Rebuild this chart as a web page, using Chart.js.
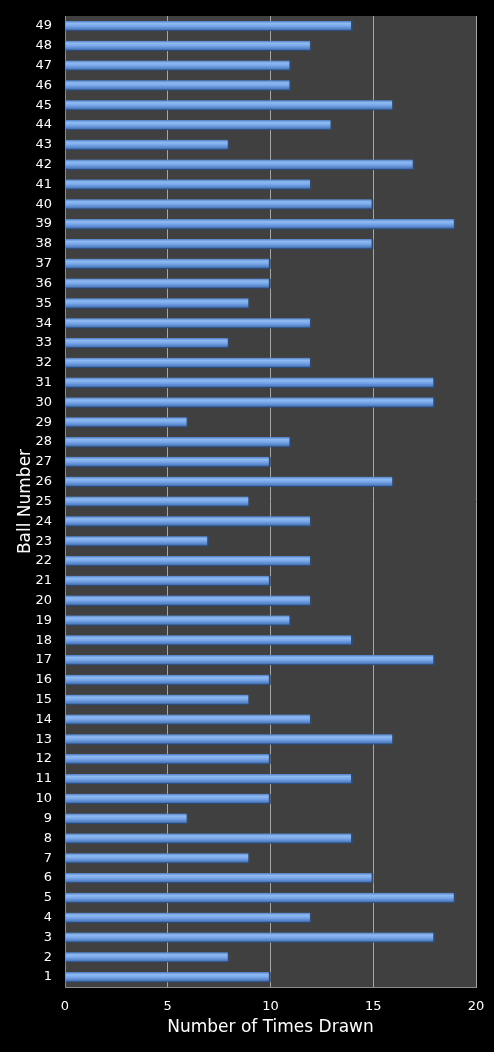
<!DOCTYPE html>
<html>
<head>
<meta charset="utf-8">
<script src="https://cdn.jsdelivr.net/npm/chart.js@4/dist/chart.umd.min.js"></script>
<style>
  html, body { margin: 0; padding: 0; background: #000; }
  #wrap { width: 494px; height: 1052px; position: relative; }
</style>
</head>
<body>
<div id="wrap"><canvas id="myChart"></canvas></div>
<script>
// ball numbers 1..49 and how often each came up
var balls = [
  "1", "2", "3", "4", "5", "6", "7", "8", "9", "10",
  "11", "12", "13", "14", "15", "16", "17", "18", "19", "20",
  "21", "22", "23", "24", "25", "26", "27", "28", "29", "30",
  "31", "32", "33", "34", "35", "36", "37", "38", "39", "40",
  "41", "42", "43", "44", "45", "46", "47", "48", "49",
];
var timesDrawn = [
  10, 8, 18, 12, 19, 15, 9, 14, 6, 10,
  14, 10, 16, 12, 9, 10, 18, 14, 11, 12,
  10, 12, 7, 12, 9, 16, 10, 11, 6, 18,
  18, 12, 8, 12, 9, 10, 10, 15, 19, 15,
  12, 17, 8, 13, 16, 11, 11, 12, 14,
];
var xTicks = [0, 5, 10, 15, 20];

var barHeight = 10;

// dark grey plot area
var plotBg = {
  id: "plotBg",
  beforeDraw: function (chart) {
    var a = chart.chartArea;
    var c = chart.ctx;
    c.save();
    c.fillStyle = "#404040";
    c.fillRect(a.left, a.top, a.right - a.left, a.bottom - a.top);
    c.restore();
  },
};

function barFill(context) {
  var chart = context.chart;
  var yScale = chart.scales.y;
  if (!yScale || context.dataIndex === undefined) return "#6a9be0";
  var mid = yScale.getPixelForValue(context.dataIndex);
  if (!isFinite(mid)) return "#6a9be0";
  var g = chart.ctx.createLinearGradient(0, mid - barHeight / 2, 0, mid + barHeight / 2);
  g.addColorStop(0, "#4f7fc4");
  g.addColorStop(0.25, "#8fbaf2");
  g.addColorStop(0.5, "#7aa8ea");
  g.addColorStop(0.8, "#5583c8");
  g.addColorStop(1, "#34598f");
  return g;
}

var ctx = document.getElementById("myChart").getContext("2d");
var myChart = new Chart(ctx, {
  type: "bar",
  data: {
    labels: balls,
    datasets: [
      {
        data: timesDrawn,
        backgroundColor: barFill,
        borderColor: "#2b4a78",
        borderWidth: { top: 0, right: 2, bottom: 1, left: 0 },
        borderSkipped: false,
        barThickness: barHeight,
      },
    ],
  },
  options: {
    indexAxis: "y",
    responsive: true,
    maintainAspectRatio: false,
    animation: false,
    layout: { padding: { top: 16, right: 18, bottom: 14, left: 12 } },
    plugins: {
      legend: { display: false },
      tooltip: { enabled: false },
    },
    scales: {
      x: {
        min: 0,
        max: 20,
        afterBuildTicks: function (scale) {
          scale.ticks = xTicks.map(function (v) { return { value: v }; });
        },
        afterFit: function (scale) {
          scale.height = 51;
          scale.paddingLeft = 0;
          scale.paddingRight = 0;
        },
        grid: { color: "#a6a6a6", lineWidth: 1, drawTicks: false },
        border: { display: true, color: "#8c8c8c", width: 1 },
        ticks: {
          color: "#ffffff",
          font: { family: "DejaVu Sans", size: 13 },
          padding: 12,
          maxRotation: 0,
        },
        title: {
          display: true,
          text: "Number of Times Drawn",
          color: "#ffffff",
          font: { family: "DejaVu Sans", size: 17 },
          padding: { top: 4, bottom: 0 },
        },
      },
      y: {
        reverse: true,
        afterFit: function (scale) {
          scale.width = 53;
          scale.paddingTop = 0;
          scale.paddingBottom = 0;
        },
        grid: { display: false, drawTicks: false },
        border: { display: true, color: "#8c8c8c", width: 1 },
        ticks: {
          color: "#ffffff",
          font: { family: "DejaVu Sans", size: 13 },
          padding: 13,
          autoSkip: false,
        },
        title: {
          display: true,
          text: "Ball Number",
          color: "#ffffff",
          font: { family: "DejaVu Sans", size: 17 },
          padding: { top: 3, bottom: 0 },
        },
      },
    },
  },
  plugins: [plotBg],
});
</script>
</body>
</html>
